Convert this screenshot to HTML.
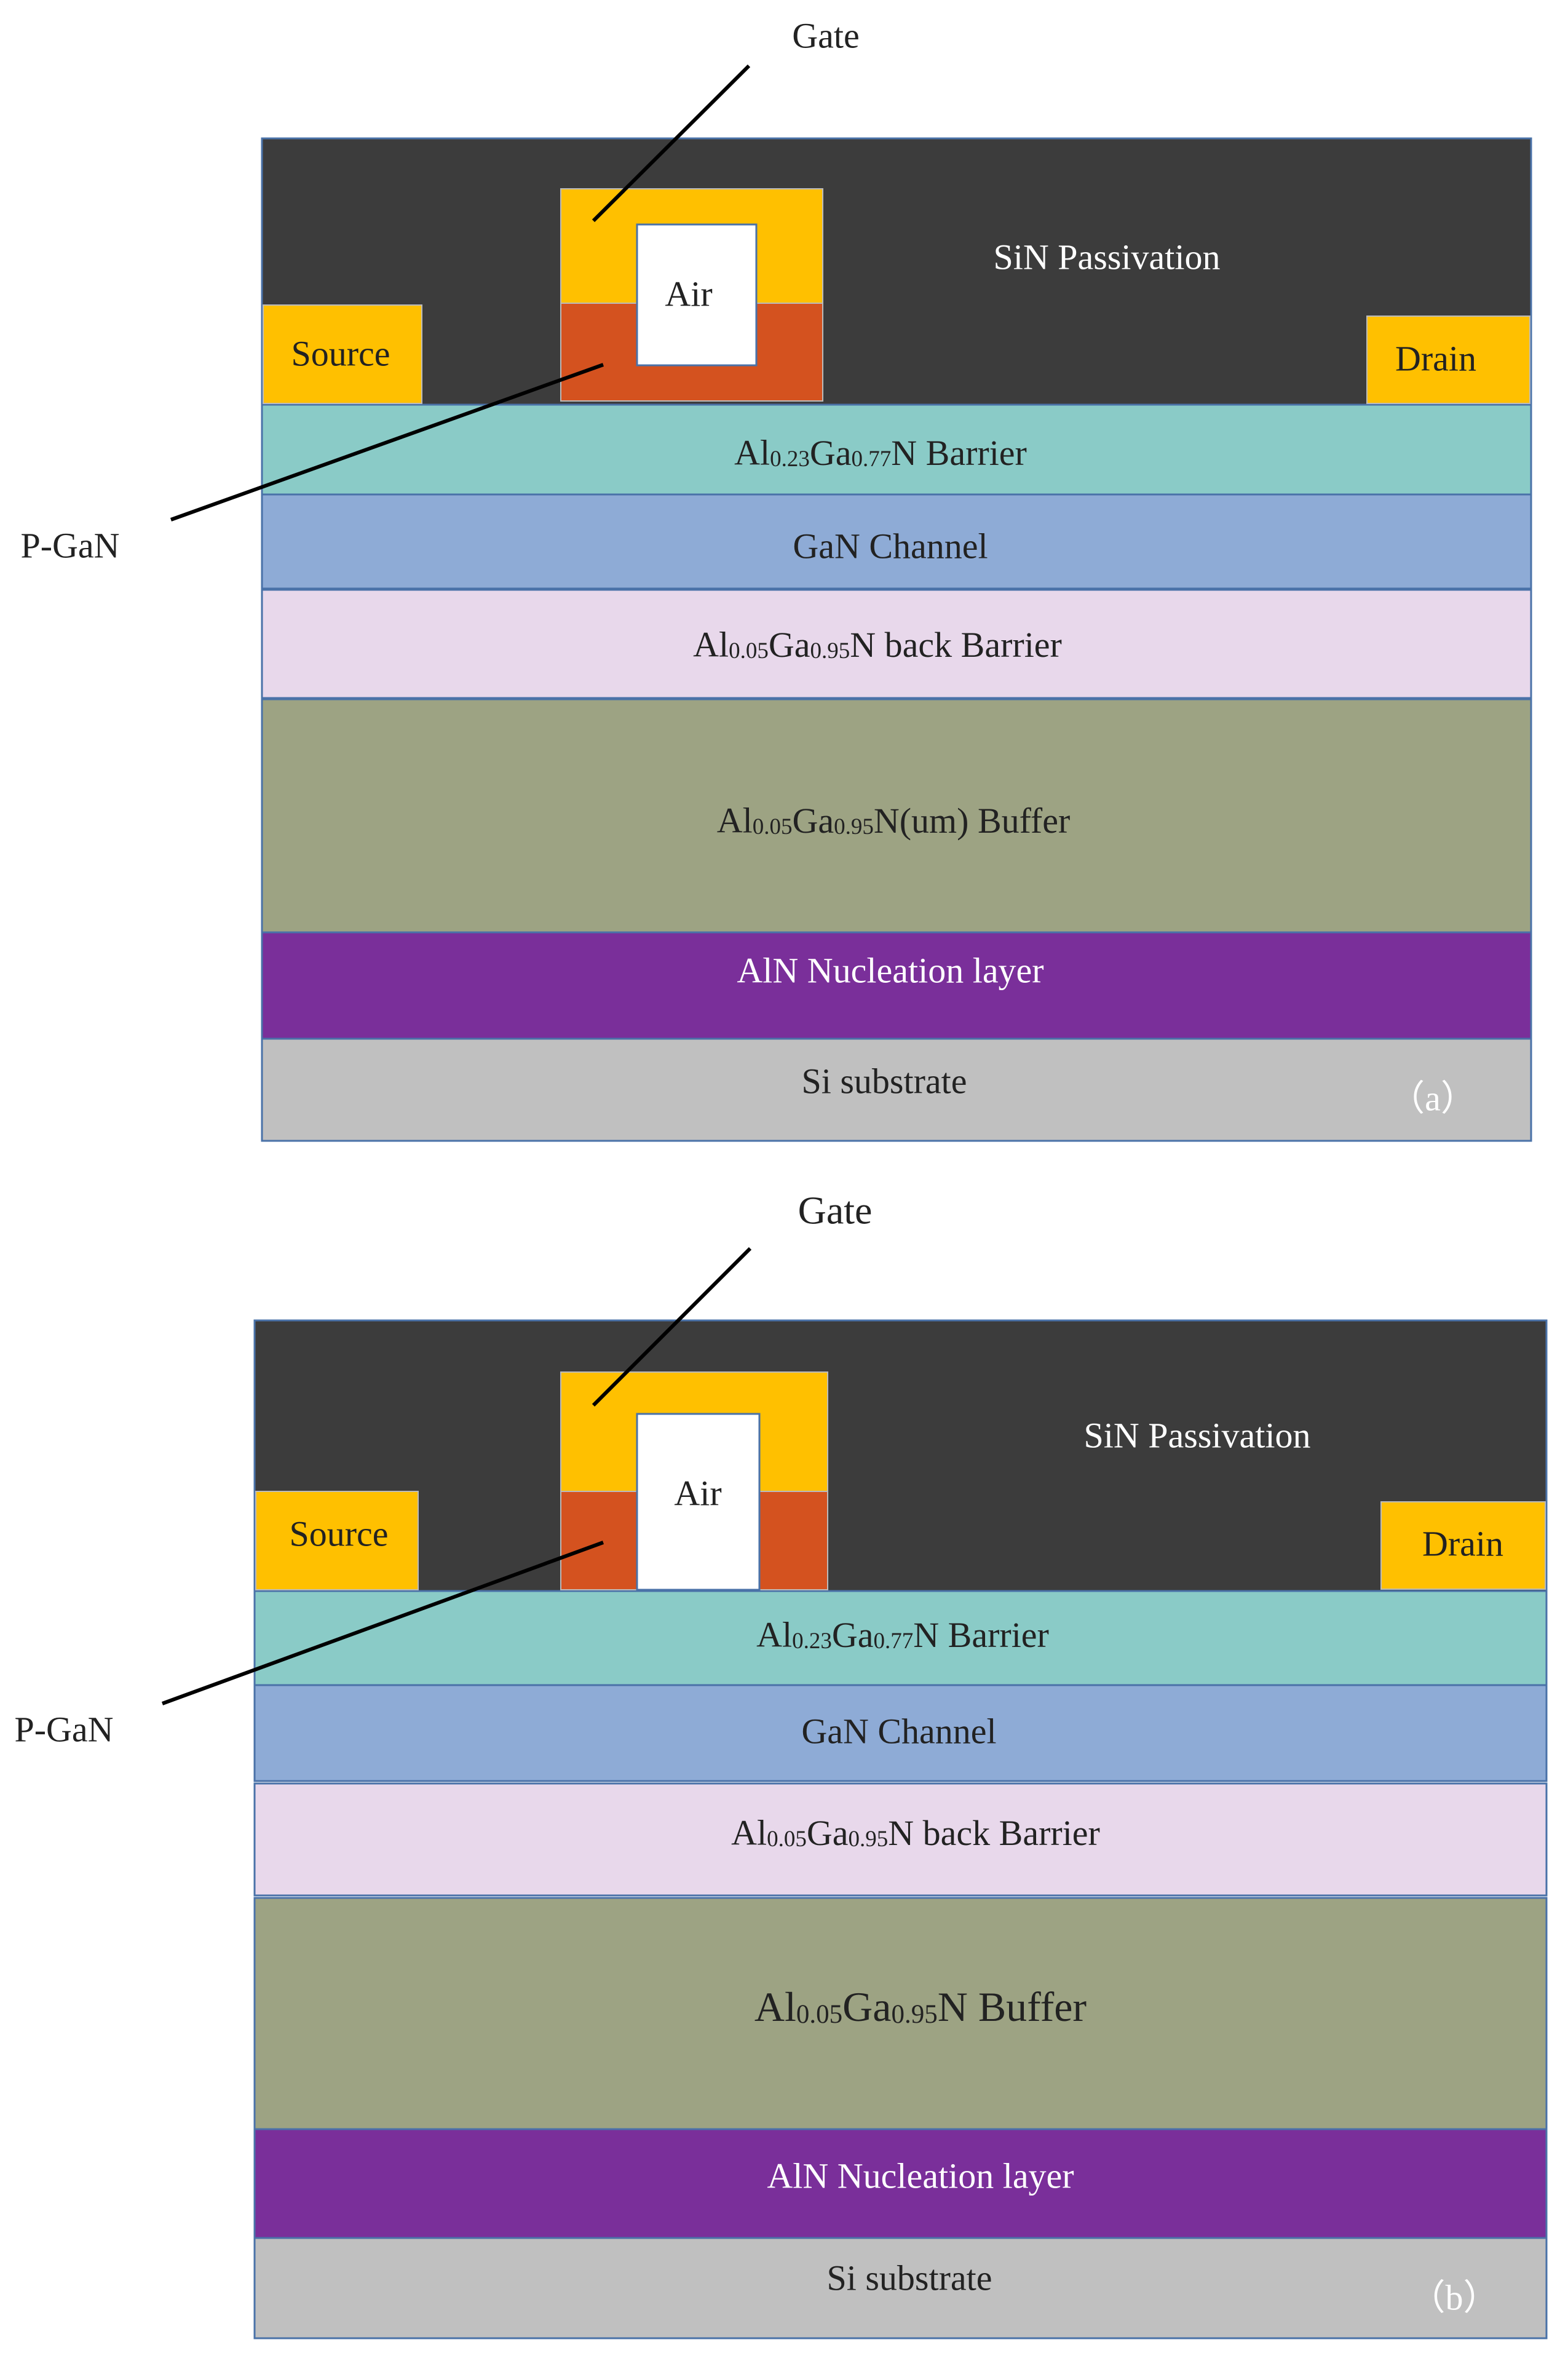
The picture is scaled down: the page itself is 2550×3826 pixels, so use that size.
<!DOCTYPE html>
<html><head><meta charset="utf-8"><style>
html,body{margin:0;padding:0;background:#fff;}
svg{display:block;}
text{font-family:"Liberation Serif","Times New Roman",serif;}
</style></head><body>
<svg width="2550" height="3826" viewBox="0 0 2550 3826" xmlns="http://www.w3.org/2000/svg" font-family="Liberation Serif, Times New Roman, serif">
<!-- Panel A -->
<g stroke="#4a72a8" stroke-width="3">
<rect x="426" y="225" width="2064" height="433" fill="#3c3c3c"/>
<rect x="426" y="658" width="2064" height="146" fill="#8acbc7"/>
<rect x="426" y="804" width="2064" height="153" fill="#8eabd6"/>
<rect x="426" y="959" width="2064" height="176" fill="#e8d8eb"/>
<rect x="426" y="1137" width="2064" height="379" fill="#9da383"/>
<rect x="426" y="1516" width="2064" height="173" fill="#7a2f9a"/>
<rect x="426" y="1689" width="2064" height="166" fill="#c0c0c0"/>
</g>
<rect x="428" y="496" width="258" height="160" fill="#ffc000" stroke="#bbb" stroke-width="2"/>
<rect x="2223" y="514" width="265" height="142" fill="#ffc000" stroke="#bbb" stroke-width="2"/>
<rect x="912" y="307" width="426" height="186" fill="#ffc000" stroke="#bbb" stroke-width="2"/>
<rect x="912" y="493" width="426" height="159" fill="#d4521f" stroke="#bbb" stroke-width="2"/>
<rect x="1036" y="365" width="194" height="229" fill="#fff" stroke="#4a72a8" stroke-width="3"/>
<line x1="1218" y1="107" x2="965" y2="359" stroke="#000" stroke-width="6"/>
<line x1="278" y1="845" x2="981" y2="593" stroke="#000" stroke-width="6"/>
<g font-size="58" text-anchor="middle" dominant-baseline="central">
<text x="1343" y="58" fill="#222">Gate</text>
<text x="114" y="887" fill="#222">P-GaN</text>
<text x="1800" y="418" fill="#fff">SiN Passivation</text>
<text x="554" y="575" fill="#222">Source</text>
<text x="1120" y="478" fill="#222">Air</text>
<text x="2335" y="583" fill="#222">Drain</text>
<text x="1432" y="736" fill="#222">Al<tspan font-size="37" dy="10">0.23</tspan><tspan dy="-10">Ga</tspan><tspan font-size="37" dy="10">0.77</tspan><tspan dy="-10">N Barrier</tspan></text>
<text x="1448" y="888" fill="#222">GaN Channel</text>
<text x="1427" y="1048" fill="#222">Al<tspan font-size="37" dy="10">0.05</tspan><tspan dy="-10">Ga</tspan><tspan font-size="37" dy="10">0.95</tspan><tspan dy="-10">N back Barrier</tspan></text>
<text x="1453" y="1334" fill="#222">Al<tspan font-size="37" dy="10">0.05</tspan><tspan dy="-10">Ga</tspan><tspan font-size="37" dy="10">0.95</tspan><tspan dy="-10">N(um) Buffer</tspan></text>
<text x="1448" y="1578" fill="#fff">AlN Nucleation layer</text>
<text x="1438" y="1758" fill="#222">Si substrate</text>
<text x="2330" y="1786" fill="#fff">（a）</text>
</g>
<!-- Panel B -->
<g stroke="#4a72a8" stroke-width="3">
<rect x="414" y="2147" width="2101" height="440" fill="#3c3c3c"/>
<rect x="414" y="2587" width="2101" height="153" fill="#8acbc7"/>
<rect x="414" y="2740" width="2101" height="156" fill="#8eabd6"/>
<rect x="414" y="2900" width="2101" height="182" fill="#e8d8eb"/>
<rect x="414" y="3086" width="2101" height="376" fill="#9da383"/>
<rect x="414" y="3462" width="2101" height="177" fill="#7a2f9a"/>
<rect x="414" y="3639" width="2101" height="163" fill="#c0c0c0"/>
</g>
<rect x="416" y="2425" width="264" height="160" fill="#ffc000" stroke="#bbb" stroke-width="2"/>
<rect x="2246" y="2442" width="267" height="142" fill="#ffc000" stroke="#bbb" stroke-width="2"/>
<rect x="912" y="2231" width="434" height="194" fill="#ffc000" stroke="#bbb" stroke-width="2"/>
<rect x="912" y="2425" width="434" height="160" fill="#d4521f" stroke="#bbb" stroke-width="2"/>
<rect x="1036" y="2299" width="199" height="286" fill="#fff" stroke="#4a72a8" stroke-width="3"/>
<line x1="1220" y1="2030" x2="965" y2="2285" stroke="#000" stroke-width="6"/>
<line x1="264" y1="2770" x2="981" y2="2508" stroke="#000" stroke-width="6"/>
<g font-size="58" text-anchor="middle" dominant-baseline="central">
<text x="1358" y="1968" fill="#222" font-size="64">Gate</text>
<text x="104" y="2812" fill="#222">P-GaN</text>
<text x="1947" y="2334" fill="#fff">SiN Passivation</text>
<text x="551" y="2494" fill="#222">Source</text>
<text x="1135" y="2428" fill="#222">Air</text>
<text x="2379" y="2510" fill="#222">Drain</text>
<text x="1468" y="2658" fill="#222">Al<tspan font-size="37" dy="10">0.23</tspan><tspan dy="-10">Ga</tspan><tspan font-size="37" dy="10">0.77</tspan><tspan dy="-10">N Barrier</tspan></text>
<text x="1462" y="2815" fill="#222">GaN Channel</text>
<text x="1489" y="2980" fill="#222">Al<tspan font-size="37" dy="10">0.05</tspan><tspan dy="-10">Ga</tspan><tspan font-size="37" dy="10">0.95</tspan><tspan dy="-10">N back Barrier</tspan></text>
<text x="1497" y="3263" fill="#222" font-size="68">Al<tspan font-size="43" dy="12">0.05</tspan><tspan dy="-12">Ga</tspan><tspan font-size="43" dy="12">0.95</tspan><tspan dy="-12">N Buffer</tspan></text>
<text x="1497" y="3538" fill="#fff">AlN Nucleation layer</text>
<text x="1479" y="3704" fill="#222">Si substrate</text>
<text x="2365" y="3736" fill="#fff">（b）</text>
</g>
</svg>
</body></html>
